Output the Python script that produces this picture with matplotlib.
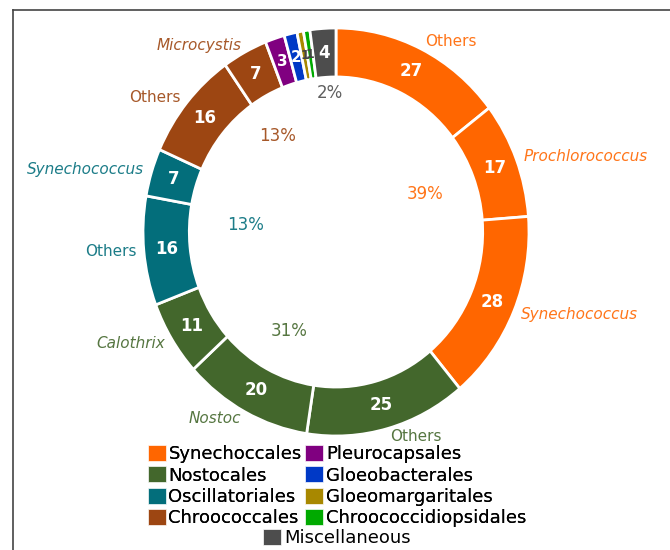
import matplotlib.pyplot as plt
from matplotlib.patches import Patch
from matplotlib.lines import Line2D
import numpy as np

# Orders (inner groups)
groups = ['Synechoccales', 'Nostocales', 'Oscillatoriales', 'Chroococcales',
          'Pleurocapsales', 'Gloeobacterales', 'Gloeomargaritales',
          'Chroococcidiopsidales', 'Miscellaneous']
group_colors = ['#ff6600', '#43672c', '#036e7b', '#9d4612',
                '#800080', '#0039c6', '#a88800', '#00aa00', '#4d4d4d']
group_pct = ['39%', '31%', '13%', '13%', '', '', '', '', '2%']

# Genera (ring segments), clockwise from the top
seg_labels = ['Others', 'Prochlorococcus', 'Synechococcus',
              'Others', 'Nostoc', 'Calothrix',
              'Others', 'Synechococcus',
              'Others', 'Microcystis',
              '', '', '', '', '']
seg_values = [27, 17, 28, 25, 20, 11, 16, 7, 16, 7, 3, 2, 1, 1, 4]
seg_group = [0, 0, 0, 1, 1, 1, 2, 2, 3, 3, 4, 5, 6, 7, 8]

# where the percentage labels sit (radius, angle shift in degrees)
pct_radius = {0: 0.50, 1: 0.54, 2: 0.47, 3: 0.56, 8: 0.68}
pct_shift = {0: -2, 1: 12, 2: 3, 3: 11, 8: 1}

plt.rcParams['font.family'] = ['DejaVu Sans']

fig = plt.figure(figsize=(6.7, 5.5), dpi=100)
ax = fig.add_axes([0, 0, 1, 1])

seg_colors = [group_colors[g] for g in seg_group]
wedges, _ = ax.pie(seg_values, colors=seg_colors, startangle=90, counterclock=False,
                   radius=1.0,
                   wedgeprops=dict(width=0.24, edgecolor='white', linewidth=2))

# ellipse-ish like the reference: 193 px wide radius, 204 px tall radius, centre (336, 232)
ax.set_aspect('auto')
ax.set_xlim((0 - 336) / 193, (670 - 336) / 193)
ax.set_ylim((232 - 550) / 204, (232 - 0) / 204)
ax.axis('off')

total = sum(seg_values)
cum = np.cumsum([0] + seg_values)
mids = (cum[:-1] + cum[1:]) / 2 / total * 360

# values inside the ring + genus names outside
for i, v in enumerate(seg_values):
    th = np.deg2rad(mids[i])
    x, y = 0.88 * np.sin(th), 0.88 * np.cos(th)
    if v == 1:
        col, fs = '#444444', 9
    elif v <= 3:
        col, fs = 'white', 11
    else:
        col, fs = 'white', 12
    ax.text(x, y, str(v), ha='center', va='center', color=col, fontsize=fs,
            fontweight='bold')
    if seg_labels[i]:
        xo, yo = 1.04 * np.sin(th), 1.04 * np.cos(th)
        ha = 'left' if np.sin(th) > 0 else 'right'
        style = 'normal' if seg_labels[i] == 'Others' else 'italic'
        ax.text(xo, yo, seg_labels[i], ha=ha, va='center', fontsize=11,
                style=style, color=seg_colors[i], alpha=0.9)

# group percentages in the hole
for g, pct in enumerate(group_pct):
    if not pct:
        continue
    idx = [i for i, s in enumerate(seg_group) if s == g]
    a0 = cum[idx[0]] / total * 360
    a1 = cum[idx[-1] + 1] / total * 360
    th = np.deg2rad((a0 + a1) / 2 + pct_shift[g])
    r = pct_radius[g]
    ax.text(r * np.sin(th), r * np.cos(th), pct, ha='center', va='center',
            fontsize=12, color=group_colors[g], alpha=0.9)

# legend
handles = [Patch(facecolor=c, edgecolor='white', linewidth=0.5, label=n)
           for n, c in zip(groups, group_colors)]
leg_kw = dict(frameon=False, fontsize=13, handlelength=1.0, handleheight=1.0,
              handletextpad=0.15, labelspacing=0.17, columnspacing=0.2,
              borderpad=0, borderaxespad=0, loc='upper center')
leg1 = fig.legend(handles=handles[:8], ncol=2,
                  bbox_to_anchor=(337 / 670, 1 - 445 / 550), **leg_kw)
fig.add_artist(leg1)
fig.legend(handles=handles[8:], bbox_to_anchor=(337 / 670, 1 - 529 / 550), **leg_kw)

# frame edges that show in the crop
fig.add_artist(Line2D([13 / 670, 1], [1 - 10 / 550, 1 - 10 / 550],
                      transform=fig.transFigure, color='#444444', lw=1.2))
fig.add_artist(Line2D([13 / 670, 13 / 670], [0, 1 - 10 / 550],
                      transform=fig.transFigure, color='#444444', lw=1.2))

fig.savefig('out.png', dpi=100)
